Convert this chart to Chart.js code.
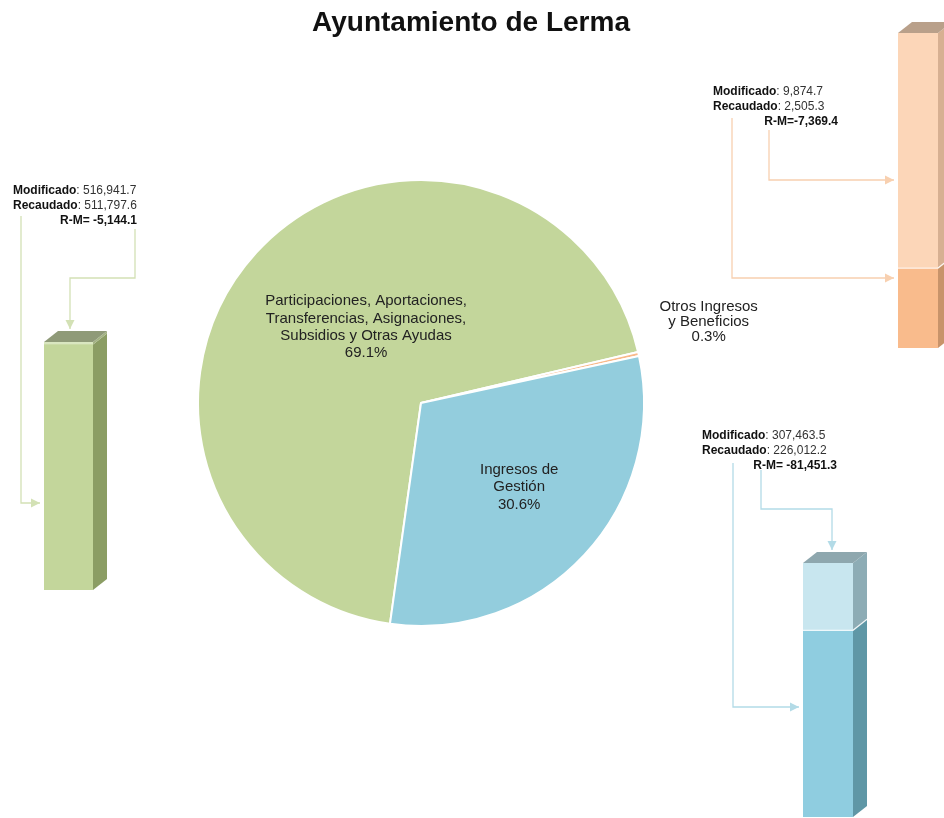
<!DOCTYPE html>
<html>
<head>
<meta charset="utf-8">
<script src="https://cdn.jsdelivr.net/npm/chart.js@4.4.1/dist/chart.umd.min.js"></script>
<style>
  body { margin: 0; background: #fff; width: 944px; height: 818px; overflow: hidden; position: relative; }
  canvas { position: absolute; }
</style>
</head>
<body>
<script>
const FONT = '"Liberation Sans", Arial, sans-serif';

// data
const categories = ["Participaciones, Aportaciones, Transferencias, Asignaciones, Subsidios y Otras Ayudas", "Otros Ingresos y Beneficios", "Ingresos de Gestión"];
const pieLabelLines = [
    ["Participaciones, Aportaciones,", "Transferencias, Asignaciones,", "Subsidios y Otras Ayudas"],
    ["Otros Ingresos", "y Beneficios"],
    ["Ingresos de", "Gestión"]
];
const pieShares = [69.1, 0.3, 30.6];
const modificado = [516941.7, 9874.7, 307463.5];
const recaudado = [511797.6, 2505.3, 226012.2];

// styles
const pieColors = ["#c3d69b", "#f9b98a", "#93cddd"];
const barStyles = [
    { rec: "#c3d69b", dif: "#d9e6c0", side: ["#8b9d64", "#a3b383"], top: "#8f9a78", line: "#d3e1b5" },
    { rec: "#f9bb8c", dif: "#fcd6b8", side: ["#c8936a", "#d7b092"], top: "#b9a08a", line: "#f8d0b0" },
    { rec: "#8fcde0", dif: "#c8e6ef", side: ["#5f97a6", "#8dacb5"], top: "#8ea7ae", line: "#b3dbe7" }
];
// label placement around each slice: extra angle (deg), radius factor, line height
const pieLabelPlace = [
    { dAngle: 11.7, r: 0.42, lh: 17.3 },
    { dAngle: -3, r: 1.34, lh: 15 },
    { dAngle: -2.3, r: 0.58, lh: 17.5 }
];

function fmt(v) {
    return v.toLocaleString("en-US", { minimumFractionDigits: 1, maximumFractionDigits: 1 });
}

function makeCanvas(left, top, w, h) {
    const c = document.createElement("canvas");
    c.width = w; c.height = h;
    c.style.left = left + "px"; c.style.top = top + "px";
    c.style.width = w + "px"; c.style.height = h + "px";
    document.body.appendChild(c);
    return c;
}

// ---- pie ----
const pieLabelsPlugin = {
    id: "pieLabels",
    afterDatasetsDraw(chart) {
        const ctx = chart.ctx;
        const meta = chart.getDatasetMeta(0);
        ctx.save();
        ctx.font = "15px " + FONT;
        ctx.fillStyle = "#222";
        ctx.textAlign = "center";
        ctx.textBaseline = "middle";
        meta.data.forEach((arc, i) => {
            const p = arc.getProps(["x", "y", "startAngle", "endAngle", "outerRadius"], true);
            const place = pieLabelPlace[i];
            const a = (p.startAngle + p.endAngle) / 2 + place.dAngle * Math.PI / 180;
            const cx = p.x + Math.cos(a) * p.outerRadius * place.r;
            const cy = p.y + Math.sin(a) * p.outerRadius * place.r;
            const lines = pieLabelLines[i].concat([pieShares[i].toFixed(1) + "%"]);
            lines.forEach((t, k) => {
                ctx.fillText(t, cx, cy + (k - (lines.length - 1) / 2) * place.lh);
            });
        });
        // page title
        ctx.font = "bold 28px " + FONT;
        ctx.fillStyle = "#111";
        ctx.textBaseline = "alphabetic";
        ctx.fillText("Ayuntamiento de Lerma", 471, 31);
        ctx.restore();
    }
};

new Chart(makeCanvas(0, 0, 944, 818), {
    type: "pie",
    data: {
        labels: categories,
        datasets: [{
            data: pieShares,
            backgroundColor: pieColors,
            borderColor: "#fff",
            borderWidth: 2,
            hoverOffset: 0
        }]
    },
    options: {
        responsive: false,
        animation: false,
        rotation: 188,
        layout: { padding: { left: 197, right: 299, top: 179, bottom: 191 } },
        plugins: { legend: { display: false }, tooltip: { enabled: false } }
    },
    plugins: [pieLabelsPlugin]
});

// ---- 3d columns ----
const bar3d = {
    id: "bar3d",
    afterDatasetsDraw(chart, args, o) {
        const ctx = chart.ctx;
        const metas = chart.getSortedVisibleDatasetMetas();
        let top = null, split = null;
        ctx.save();
        metas.forEach((meta, di) => {
            meta.data.forEach(el => {
                const { x, y, base, width } = el.getProps(["x", "y", "base", "width"], true);
                const l = x - width / 2, r = x + width / 2;
                ctx.fillStyle = o.side[di];
                ctx.beginPath();
                ctx.moveTo(r, y);
                ctx.lineTo(r + o.dx, y - o.dy);
                ctx.lineTo(r + o.dx, base - o.dy);
                ctx.lineTo(r, base);
                ctx.closePath();
                ctx.fill();
                if (di === 0) split = { l, r, y };
                if (!top || y < top.y) top = { l, r, y };
            });
        });
        ctx.fillStyle = o.top;
        ctx.beginPath();
        ctx.moveTo(top.l, top.y);
        ctx.lineTo(top.l + o.dx, top.y - o.dy);
        ctx.lineTo(top.r + o.dx, top.y - o.dy);
        ctx.lineTo(top.r, top.y);
        ctx.closePath();
        ctx.fill();
        if (split && split.y > top.y + 3) {
            ctx.strokeStyle = "rgba(255,255,255,0.85)";
            ctx.lineWidth = 1.2;
            ctx.beginPath();
            ctx.moveTo(split.l, split.y);
            ctx.lineTo(split.r, split.y);
            ctx.lineTo(split.r + o.dx, split.y - o.dy);
            ctx.stroke();
        }
        ctx.restore();
    }
};

function arrowHead(ctx, a, b, len, half) {
    const ang = Math.atan2(b.y - a.y, b.x - a.x);
    ctx.beginPath();
    ctx.moveTo(b.x, b.y);
    ctx.lineTo(b.x - Math.cos(ang) * len - Math.sin(ang) * half, b.y - Math.sin(ang) * len + Math.cos(ang) * half);
    ctx.lineTo(b.x - Math.cos(ang) * len + Math.sin(ang) * half, b.y - Math.sin(ang) * len - Math.cos(ang) * half);
    ctx.closePath();
    ctx.fill();
}

const barNotes = {
    id: "barNotes",
    afterDraw(chart, args, o) {
        const ctx = chart.ctx;
        const i = o.index;
        const st = barStyles[i];
        const topEl = chart.getDatasetMeta(1).data[0].getProps(["x", "y", "width"], true);
        const barLeft = topEl.x - topEl.width / 2 + o.box[0];
        const topBack = topEl.y - o.dy + o.box[1];
        ctx.save();
        ctx.translate(-o.box[0], -o.box[1]);

        // connectors
        ctx.strokeStyle = st.line;
        ctx.fillStyle = st.line;
        ctx.lineWidth = 1.3;
        o.connectors.forEach(c => {
            const pts = c.pts.map(p => ({ x: p[0], y: p[1] }));
            const last = pts[pts.length - 1];
            const tip = c.end === "left" ? { x: barLeft - 4, y: last.y } : { x: last.x, y: topBack - 2 };
            pts.push(tip);
            ctx.beginPath();
            pts.forEach((p, k) => k ? ctx.lineTo(p.x, p.y) : ctx.moveTo(p.x, p.y));
            ctx.stroke();
            arrowHead(ctx, pts[pts.length - 2], tip, 9, 4.5);
        });

        // text block
        ctx.textBaseline = "middle";
        ctx.textAlign = "left";
        const rows = [["Modificado", modificado[i]], ["Recaudado", recaudado[i]]];
        rows.forEach((row, k) => {
            const y = o.textY + k * 15;
            ctx.font = "bold 12px " + FONT;
            ctx.fillStyle = "#111";
            ctx.fillText(row[0], o.textX, y);
            const w = ctx.measureText(row[0]).width;
            ctx.font = "12px " + FONT;
            ctx.fillStyle = "#333";
            ctx.fillText(": " + fmt(row[1]), o.textX + w, y);
        });
        ctx.font = "bold 12px " + FONT;
        ctx.fillStyle = "#111";
        ctx.textAlign = "right";
        ctx.fillText("R-M=" + o.sep + fmt(recaudado[i] - modificado[i]), o.rmRight, o.textY + 30);
        ctx.restore();
    }
};

function makeColumn(i, box, pad, notes) {
    const st = barStyles[i];
    const depth = { dx: 14, dy: 11 };
    new Chart(makeCanvas(box[0], box[1], box[2], box[3]), {
        type: "bar",
        data: {
            labels: [categories[i]],
            datasets: [
                { label: "Recaudado", data: [recaudado[i]], backgroundColor: st.rec },
                { label: "Modificado", data: [modificado[i] - recaudado[i]], backgroundColor: st.dif }
            ]
        },
        options: {
            responsive: false,
            animation: false,
            layout: { padding: pad },
            datasets: { bar: { barPercentage: 1, categoryPercentage: 1, borderWidth: 0 } },
            scales: {
                x: { stacked: true, display: false },
                y: { stacked: true, display: false, min: 0, max: modificado[i] }
            },
            plugins: {
                legend: { display: false },
                tooltip: { enabled: false },
                bar3d: { dx: depth.dx, dy: depth.dy, side: st.side, top: st.top },
                barNotes: Object.assign({ index: i, box: box, dy: depth.dy }, notes)
            }
        },
        plugins: [bar3d, barNotes]
    });
}

// Participaciones (green, left)
makeColumn(0, [0, 170, 180, 440], { left: 44, right: 87, top: 172, bottom: 20 }, {
    textX: 13, textY: 191, rmRight: 137, sep: " ",
    connectors: [
        { pts: [[21, 216], [21, 503]], end: "left" },
        { pts: [[135, 229], [135, 278], [70, 278]], end: "top" }
    ]
});

// Otros Ingresos (orange, top right)
makeColumn(1, [690, 0, 254, 370], { left: 208, right: 6, top: 33, bottom: 22 }, {
    textX: 713, textY: 92, rmRight: 838, sep: "",
    connectors: [
        { pts: [[732, 118], [732, 278]], end: "left" },
        { pts: [[769, 130], [769, 180]], end: "left" }
    ]
});

// Ingresos de Gestion (blue, bottom right)
makeColumn(2, [690, 420, 254, 398], { left: 113, right: 91, top: 143, bottom: 1 }, {
    textX: 702, textY: 436, rmRight: 837, sep: " ",
    connectors: [
        { pts: [[733, 463], [733, 707]], end: "left" },
        { pts: [[761, 470], [761, 509], [832, 509]], end: "top" }
    ]
});
</script>
</body>
</html>
